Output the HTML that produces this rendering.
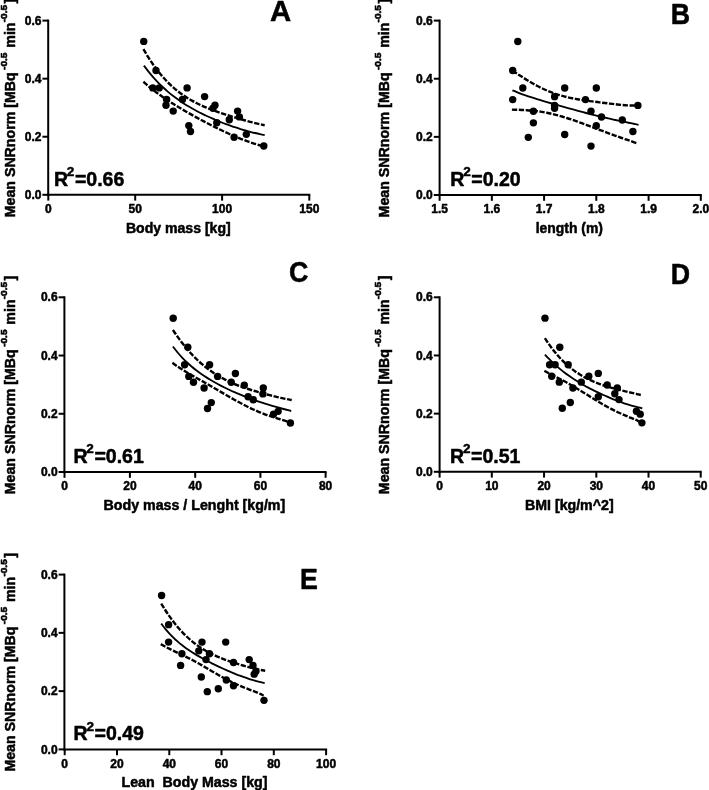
<!DOCTYPE html>
<html><head><meta charset="utf-8"><title>Figure</title>
<style>html,body{margin:0;padding:0;background:#fff;}svg{display:block;will-change:transform;filter:blur(0.3px);}text{font-family:"Liberation Sans", sans-serif;font-weight:bold;fill:#000;stroke:#000;stroke-width:0.5px;stroke-linejoin:round;}.tk{font-size:12.2px;}.tt{font-size:14px;}.yl text{font-size:14.2px;}.yl text.sp{font-size:9.6px;stroke-width:0.6px;}.r2{font-size:19.5px;}.lt{font-size:28.5px;}.ax{stroke:#000;stroke-width:2.00;fill:none;stroke-linecap:butt;}.so{stroke:#000;stroke-width:1.85;fill:none;}.da{stroke:#000;stroke-width:2.4;fill:none;stroke-dasharray:5.3 1.6;}</style></head><body>
<svg width="709" height="790" viewBox="0 0 709 790">
<rect width="709" height="790" fill="#fff"/>
<g>
<path class="ax" d="M48.20 19.60 V195.80"/>
<path class="ax" d="M47.20 194.80 H310.30"/>
<path class="ax" d="M42.40 194.80 H48.20"/>
<text class="tk" transform="translate(41.40 198.90) scale(0.985 1)" text-anchor="end">0.0</text>
<path class="ax" d="M42.40 136.73 H48.20"/>
<text class="tk" transform="translate(41.40 140.83) scale(0.985 1)" text-anchor="end">0.2</text>
<path class="ax" d="M42.40 78.67 H48.20"/>
<text class="tk" transform="translate(41.40 82.77) scale(0.985 1)" text-anchor="end">0.4</text>
<path class="ax" d="M42.40 20.60 H48.20"/>
<text class="tk" transform="translate(41.40 24.70) scale(0.985 1)" text-anchor="end">0.6</text>
<path class="ax" d="M48.30 194.80 V200.60"/>
<text class="tk" transform="translate(48.30 213.00) scale(0.985 1)" text-anchor="middle">0</text>
<path class="ax" d="M135.20 194.80 V200.60"/>
<text class="tk" transform="translate(135.20 213.00) scale(0.985 1)" text-anchor="middle">50</text>
<path class="ax" d="M222.10 194.80 V200.60"/>
<text class="tk" transform="translate(222.10 213.00) scale(0.985 1)" text-anchor="middle">100</text>
<path class="ax" d="M309.30 194.80 V200.60"/>
<text class="tk" transform="translate(309.30 213.00) scale(0.985 1)" text-anchor="middle">150</text>
<text class="tt" x="178.30" y="232.50" text-anchor="middle" textLength="104.8" lengthAdjust="spacingAndGlyphs">Body mass [kg]</text>
<g class="yl" transform="translate(14.60 216.70) rotate(-90)">
<text x="-0.60" y="0">Mean SNRnorm [MBq</text>
<text class="sp" x="146.80" y="-8.00" textLength="17.40" lengthAdjust="spacingAndGlyphs">-0.5</text>
<text x="169.00" y="0">min</text>
<text class="sp" x="194.40" y="-8.00" textLength="17.40" lengthAdjust="spacingAndGlyphs">-0.5</text>
<text x="213.20" y="0">]</text>
</g>
<text class="r2" x="53.90" y="185.60">R<tspan dx="-1.2" dy="-9.5" font-size="13.5">2</tspan><tspan dx="0.6" dy="9.5">=0.66</tspan></text>
<text class="lt" transform="translate(270.00 20.50) scale(1.030 1.035)">A</text>
<g transform="translate(0 0.00)">
<path class="so" d="M143.90 65.59 C144.71 66.65 147.12 69.92 148.73 71.93 C150.34 73.94 151.95 75.84 153.56 77.66 C155.17 79.48 156.79 81.20 158.40 82.84 C160.01 84.49 161.62 86.05 163.23 87.55 C164.84 89.05 166.45 90.48 168.06 91.84 C169.67 93.21 171.28 94.51 172.89 95.76 C174.50 97.01 176.11 98.21 177.72 99.36 C179.33 100.51 180.95 101.60 182.56 102.67 C184.17 103.73 185.78 104.74 187.39 105.73 C189.00 106.71 190.61 107.65 192.22 108.57 C193.83 109.48 195.44 110.36 197.05 111.22 C198.66 112.07 200.27 112.90 201.88 113.70 C203.49 114.50 205.11 115.28 206.72 116.03 C208.33 116.78 209.94 117.51 211.55 118.22 C213.16 118.93 214.77 119.62 216.38 120.29 C217.99 120.96 219.60 121.61 221.21 122.25 C222.82 122.88 224.43 123.49 226.04 124.09 C227.65 124.69 229.27 125.27 230.88 125.83 C232.49 126.39 234.10 126.94 235.71 127.47 C237.32 128.00 238.93 128.51 240.54 129.01 C242.15 129.50 243.76 129.98 245.37 130.44 C246.98 130.90 248.59 131.34 250.20 131.77 C251.81 132.19 253.43 132.60 255.04 132.99 C256.65 133.37 258.26 133.74 259.87 134.09 C261.48 134.44 263.89 134.92 264.70 135.08"/>
<path class="da" d="M143.40 49.09 C144.21 50.44 146.63 54.64 148.25 57.22 C149.87 59.79 151.49 62.21 153.10 64.52 C154.72 66.83 156.34 69.00 157.96 71.07 C159.57 73.13 161.19 75.07 162.81 76.91 C164.43 78.75 166.04 80.48 167.66 82.12 C169.28 83.76 170.89 85.29 172.51 86.74 C174.13 88.20 175.75 89.56 177.36 90.85 C178.98 92.15 180.60 93.35 182.22 94.50 C183.83 95.65 185.45 96.72 187.07 97.75 C188.69 98.77 190.30 99.72 191.92 100.63 C193.54 101.55 195.15 102.40 196.77 103.22 C198.39 104.04 200.01 104.81 201.62 105.55 C203.24 106.29 204.86 106.98 206.48 107.66 C208.09 108.33 209.71 108.97 211.33 109.60 C212.95 110.22 214.56 110.81 216.18 111.39 C217.80 111.97 219.41 112.53 221.03 113.07 C222.65 113.62 224.27 114.15 225.88 114.67 C227.50 115.19 229.12 115.69 230.74 116.19 C232.35 116.69 233.97 117.18 235.59 117.67 C237.21 118.15 238.82 118.62 240.44 119.09 C242.06 119.56 243.67 120.02 245.29 120.47 C246.91 120.92 248.53 121.36 250.14 121.79 C251.76 122.22 253.38 122.64 255.00 123.05 C256.61 123.45 258.23 123.85 259.85 124.22 C261.47 124.59 263.89 125.09 264.70 125.27"/>
<path class="da" d="M143.40 81.77 C144.20 82.47 146.61 84.63 148.21 85.98 C149.82 87.33 151.42 88.62 153.02 89.88 C154.63 91.14 156.23 92.34 157.84 93.52 C159.44 94.70 161.04 95.84 162.65 96.95 C164.25 98.06 165.86 99.14 167.46 100.20 C169.06 101.26 170.67 102.29 172.27 103.30 C173.88 104.31 175.48 105.30 177.08 106.28 C178.69 107.25 180.29 108.21 181.90 109.15 C183.50 110.10 185.10 111.03 186.71 111.95 C188.31 112.87 189.92 113.78 191.52 114.67 C193.12 115.57 194.73 116.46 196.33 117.33 C197.94 118.21 199.54 119.08 201.14 119.94 C202.75 120.79 204.35 121.64 205.96 122.48 C207.56 123.32 209.16 124.15 210.77 124.97 C212.37 125.79 213.98 126.60 215.58 127.40 C217.18 128.20 218.79 128.99 220.39 129.76 C222.00 130.54 223.60 131.30 225.20 132.05 C226.81 132.80 228.41 133.53 230.02 134.25 C231.62 134.97 233.22 135.67 234.83 136.36 C236.43 137.04 238.04 137.71 239.64 138.35 C241.24 139.00 242.85 139.63 244.45 140.23 C246.06 140.83 247.66 141.41 249.26 141.97 C250.87 142.53 252.47 143.06 254.08 143.56 C255.68 144.07 257.28 144.55 258.89 145.00 C260.49 145.44 262.90 146.04 263.70 146.25"/>
</g>
<circle cx="143.75" cy="41.42" r="3.70"/>
<circle cx="156.00" cy="70.46" r="3.70"/>
<circle cx="152.80" cy="87.88" r="3.70"/>
<circle cx="159.20" cy="87.88" r="3.70"/>
<circle cx="187.10" cy="87.88" r="3.70"/>
<circle cx="166.60" cy="99.49" r="3.70"/>
<circle cx="166.00" cy="105.30" r="3.70"/>
<circle cx="173.20" cy="111.10" r="3.70"/>
<circle cx="182.50" cy="99.49" r="3.70"/>
<circle cx="204.60" cy="96.59" r="3.70"/>
<circle cx="215.00" cy="105.30" r="3.70"/>
<circle cx="213.00" cy="108.20" r="3.70"/>
<circle cx="188.80" cy="125.62" r="3.70"/>
<circle cx="190.50" cy="131.43" r="3.70"/>
<circle cx="216.80" cy="122.72" r="3.70"/>
<circle cx="229.30" cy="119.81" r="3.70"/>
<circle cx="237.60" cy="111.10" r="3.70"/>
<circle cx="239.40" cy="116.91" r="3.70"/>
<circle cx="234.10" cy="137.23" r="3.70"/>
<circle cx="246.30" cy="134.33" r="3.70"/>
<circle cx="263.80" cy="145.94" r="3.70"/>
</g>
<g>
<path class="ax" d="M439.60 19.60 V196.00"/>
<path class="ax" d="M438.60 195.00 H701.80"/>
<path class="ax" d="M433.80 195.00 H439.60"/>
<text class="tk" transform="translate(432.80 199.10) scale(0.985 1)" text-anchor="end">0.0</text>
<path class="ax" d="M433.80 136.87 H439.60"/>
<text class="tk" transform="translate(432.80 140.97) scale(0.985 1)" text-anchor="end">0.2</text>
<path class="ax" d="M433.80 78.73 H439.60"/>
<text class="tk" transform="translate(432.80 82.83) scale(0.985 1)" text-anchor="end">0.4</text>
<path class="ax" d="M433.80 20.60 H439.60"/>
<text class="tk" transform="translate(432.80 24.70) scale(0.985 1)" text-anchor="end">0.6</text>
<path class="ax" d="M439.60 195.00 V200.80"/>
<text class="tk" transform="translate(439.60 213.20) scale(0.985 1)" text-anchor="middle">1.5</text>
<path class="ax" d="M491.85 195.00 V200.80"/>
<text class="tk" transform="translate(491.85 213.20) scale(0.985 1)" text-anchor="middle">1.6</text>
<path class="ax" d="M544.10 195.00 V200.80"/>
<text class="tk" transform="translate(544.10 213.20) scale(0.985 1)" text-anchor="middle">1.7</text>
<path class="ax" d="M596.30 195.00 V200.80"/>
<text class="tk" transform="translate(596.30 213.20) scale(0.985 1)" text-anchor="middle">1.8</text>
<path class="ax" d="M648.60 195.00 V200.80"/>
<text class="tk" transform="translate(648.60 213.20) scale(0.985 1)" text-anchor="middle">1.9</text>
<path class="ax" d="M700.80 195.00 V200.80"/>
<text class="tk" transform="translate(700.80 213.20) scale(0.985 1)" text-anchor="middle">2.0</text>
<text class="tt" x="569.30" y="232.70" text-anchor="middle" textLength="67.2" lengthAdjust="spacingAndGlyphs">length (m)</text>
<g class="yl" transform="translate(389.10 216.80) rotate(-90)">
<text x="-0.60" y="0">Mean SNRnorm [MBq</text>
<text class="sp" x="146.80" y="-8.00" textLength="17.40" lengthAdjust="spacingAndGlyphs">-0.5</text>
<text x="169.00" y="0">min</text>
<text class="sp" x="194.40" y="-8.00" textLength="17.40" lengthAdjust="spacingAndGlyphs">-0.5</text>
<text x="213.20" y="0">]</text>
</g>
<text class="r2" x="450.30" y="185.80">R<tspan dx="-1.2" dy="-9.5" font-size="13.5">2</tspan><tspan dx="0.6" dy="9.5">=0.20</tspan></text>
<text class="lt" transform="translate(670.70 24.10) scale(0.940 1.035)">B</text>
<g transform="translate(0 0.00)">
<path class="so" d="M512.40 90.28 C513.24 90.63 515.77 91.72 517.45 92.39 C519.13 93.06 520.81 93.69 522.50 94.30 C524.18 94.91 525.86 95.49 527.54 96.06 C529.23 96.63 530.91 97.18 532.59 97.72 C534.27 98.26 535.96 98.78 537.64 99.29 C539.32 99.81 541.01 100.31 542.69 100.81 C544.37 101.31 546.05 101.81 547.74 102.30 C549.42 102.79 551.10 103.27 552.78 103.75 C554.47 104.24 556.15 104.72 557.83 105.19 C559.51 105.67 561.20 106.15 562.88 106.62 C564.56 107.09 566.25 107.57 567.93 108.04 C569.61 108.50 571.29 108.97 572.98 109.44 C574.66 109.90 576.34 110.36 578.02 110.82 C579.71 111.27 581.39 111.73 583.07 112.17 C584.75 112.62 586.44 113.06 588.12 113.50 C589.80 113.94 591.49 114.37 593.17 114.79 C594.85 115.22 596.53 115.64 598.22 116.05 C599.90 116.46 601.58 116.86 603.26 117.26 C604.95 117.65 606.63 118.04 608.31 118.42 C609.99 118.80 611.68 119.17 613.36 119.54 C615.04 119.91 616.73 120.27 618.41 120.62 C620.09 120.98 621.77 121.33 623.46 121.68 C625.14 122.03 626.82 122.37 628.50 122.72 C630.19 123.06 631.87 123.40 633.55 123.76 C635.23 124.11 637.76 124.65 638.60 124.83"/>
<path class="da" d="M512.40 70.65 C513.23 71.19 515.73 72.80 517.39 73.88 C519.06 74.96 520.72 76.05 522.38 77.11 C524.05 78.17 525.71 79.22 527.38 80.24 C529.04 81.26 530.70 82.26 532.37 83.21 C534.03 84.17 535.70 85.09 537.36 85.97 C539.02 86.85 540.69 87.69 542.35 88.49 C544.02 89.28 545.68 90.03 547.34 90.74 C549.01 91.44 550.67 92.10 552.34 92.72 C554.00 93.34 555.66 93.91 557.33 94.45 C558.99 94.99 560.66 95.48 562.32 95.94 C563.98 96.40 565.65 96.81 567.31 97.21 C568.98 97.60 570.64 97.95 572.30 98.29 C573.97 98.63 575.63 98.93 577.30 99.22 C578.96 99.51 580.62 99.78 582.29 100.03 C583.95 100.29 585.62 100.53 587.28 100.76 C588.94 100.99 590.61 101.21 592.27 101.43 C593.94 101.65 595.60 101.86 597.26 102.06 C598.93 102.27 600.59 102.48 602.26 102.69 C603.92 102.89 605.58 103.10 607.25 103.30 C608.91 103.50 610.58 103.71 612.24 103.90 C613.90 104.10 615.57 104.29 617.23 104.47 C618.90 104.65 620.56 104.83 622.22 104.97 C623.89 105.12 625.55 105.26 627.22 105.36 C628.88 105.46 630.54 105.54 632.21 105.56 C633.87 105.57 636.37 105.48 637.20 105.47"/>
<path class="da" d="M511.90 109.65 C512.73 109.67 515.23 109.72 516.89 109.77 C518.56 109.81 520.22 109.87 521.88 109.94 C523.55 110.02 525.21 110.10 526.88 110.22 C528.54 110.33 530.20 110.46 531.87 110.62 C533.53 110.79 535.20 110.97 536.86 111.18 C538.52 111.40 540.19 111.64 541.85 111.91 C543.52 112.18 545.18 112.48 546.84 112.80 C548.51 113.13 550.17 113.49 551.84 113.87 C553.50 114.25 555.16 114.66 556.83 115.10 C558.49 115.53 560.16 115.99 561.82 116.48 C563.48 116.96 565.15 117.47 566.81 117.99 C568.48 118.52 570.14 119.07 571.80 119.63 C573.47 120.19 575.13 120.77 576.80 121.36 C578.46 121.95 580.12 122.55 581.79 123.16 C583.45 123.78 585.12 124.40 586.78 125.02 C588.44 125.65 590.11 126.28 591.77 126.92 C593.44 127.55 595.10 128.19 596.76 128.82 C598.43 129.45 600.09 130.09 601.76 130.72 C603.42 131.35 605.08 131.97 606.75 132.59 C608.41 133.21 610.08 133.83 611.74 134.44 C613.40 135.04 615.07 135.64 616.73 136.24 C618.40 136.83 620.06 137.42 621.72 138.00 C623.39 138.59 625.05 139.16 626.72 139.73 C628.38 140.31 630.04 140.87 631.71 141.45 C633.37 142.02 635.87 142.87 636.70 143.16"/>
</g>
<circle cx="517.80" cy="41.45" r="3.70"/>
<circle cx="512.70" cy="70.51" r="3.70"/>
<circle cx="522.80" cy="87.95" r="3.70"/>
<circle cx="512.70" cy="99.58" r="3.70"/>
<circle cx="564.70" cy="87.95" r="3.70"/>
<circle cx="596.30" cy="87.95" r="3.70"/>
<circle cx="554.60" cy="96.67" r="3.70"/>
<circle cx="554.60" cy="105.39" r="3.70"/>
<circle cx="554.60" cy="108.30" r="3.70"/>
<circle cx="585.50" cy="99.58" r="3.70"/>
<circle cx="637.90" cy="105.39" r="3.70"/>
<circle cx="533.40" cy="111.21" r="3.70"/>
<circle cx="533.40" cy="122.83" r="3.70"/>
<circle cx="591.00" cy="111.21" r="3.70"/>
<circle cx="601.50" cy="117.02" r="3.70"/>
<circle cx="622.30" cy="119.93" r="3.70"/>
<circle cx="596.30" cy="125.74" r="3.70"/>
<circle cx="632.90" cy="131.55" r="3.70"/>
<circle cx="528.30" cy="137.37" r="3.70"/>
<circle cx="564.70" cy="134.46" r="3.70"/>
<circle cx="591.00" cy="146.09" r="3.70"/>
</g>
<g>
<path class="ax" d="M64.40 296.30 V473.00"/>
<path class="ax" d="M63.40 472.00 H326.60"/>
<path class="ax" d="M58.60 472.00 H64.40"/>
<text class="tk" transform="translate(57.60 476.10) scale(0.985 1)" text-anchor="end">0.0</text>
<path class="ax" d="M58.60 413.77 H64.40"/>
<text class="tk" transform="translate(57.60 417.87) scale(0.985 1)" text-anchor="end">0.2</text>
<path class="ax" d="M58.60 355.53 H64.40"/>
<text class="tk" transform="translate(57.60 359.63) scale(0.985 1)" text-anchor="end">0.4</text>
<path class="ax" d="M58.60 297.30 H64.40"/>
<text class="tk" transform="translate(57.60 301.40) scale(0.985 1)" text-anchor="end">0.6</text>
<path class="ax" d="M64.50 472.00 V477.80"/>
<text class="tk" transform="translate(64.50 490.20) scale(0.985 1)" text-anchor="middle">0</text>
<path class="ax" d="M129.90 472.00 V477.80"/>
<text class="tk" transform="translate(129.90 490.20) scale(0.985 1)" text-anchor="middle">20</text>
<path class="ax" d="M195.20 472.00 V477.80"/>
<text class="tk" transform="translate(195.20 490.20) scale(0.985 1)" text-anchor="middle">40</text>
<path class="ax" d="M260.40 472.00 V477.80"/>
<text class="tk" transform="translate(260.40 490.20) scale(0.985 1)" text-anchor="middle">60</text>
<path class="ax" d="M325.60 472.00 V477.80"/>
<text class="tk" transform="translate(325.60 490.20) scale(0.985 1)" text-anchor="middle">80</text>
<text class="tt" x="194.40" y="509.70" text-anchor="middle" textLength="181.7" lengthAdjust="spacingAndGlyphs">Body mass / Lenght [kg/m]</text>
<g class="yl" transform="translate(14.60 493.65) rotate(-90)">
<text x="-0.60" y="0">Mean SNRnorm [MBq</text>
<text class="sp" x="146.80" y="-8.00" textLength="17.40" lengthAdjust="spacingAndGlyphs">-0.5</text>
<text x="169.00" y="0">min</text>
<text class="sp" x="194.40" y="-8.00" textLength="17.40" lengthAdjust="spacingAndGlyphs">-0.5</text>
<text x="213.20" y="0">]</text>
</g>
<text class="r2" x="73.40" y="462.80">R<tspan dx="-1.2" dy="-9.5" font-size="13.5">2</tspan><tspan dx="0.6" dy="9.5">=0.61</tspan></text>
<text class="lt" transform="translate(289.00 281.90) scale(0.940 1.035)">C</text>
<g transform="translate(0 0.00)">
<path class="so" d="M172.90 346.46 C173.69 347.46 176.05 350.58 177.63 352.47 C179.21 354.35 180.79 356.11 182.36 357.78 C183.94 359.45 185.52 361.00 187.10 362.49 C188.67 363.98 190.25 365.37 191.83 366.71 C193.41 368.05 194.98 369.30 196.56 370.51 C198.14 371.72 199.71 372.86 201.29 373.96 C202.87 375.06 204.45 376.11 206.02 377.12 C207.60 378.14 209.18 379.11 210.76 380.04 C212.33 380.98 213.91 381.89 215.49 382.76 C217.07 383.64 218.64 384.48 220.22 385.31 C221.80 386.13 223.37 386.93 224.95 387.71 C226.53 388.49 228.11 389.24 229.68 389.98 C231.26 390.72 232.84 391.43 234.42 392.14 C235.99 392.84 237.57 393.52 239.15 394.18 C240.73 394.85 242.30 395.50 243.88 396.13 C245.46 396.77 247.03 397.38 248.61 397.99 C250.19 398.59 251.77 399.17 253.34 399.74 C254.92 400.31 256.50 400.87 258.08 401.41 C259.65 401.95 261.23 402.47 262.81 402.98 C264.39 403.50 265.96 403.99 267.54 404.47 C269.12 404.96 270.69 405.43 272.27 405.88 C273.85 406.34 275.43 406.79 277.00 407.22 C278.58 407.66 280.16 408.09 281.74 408.51 C283.31 408.93 284.89 409.34 286.47 409.76 C288.05 410.17 290.41 410.79 291.20 411.00"/>
<path class="da" d="M172.90 329.99 C173.69 331.15 176.07 334.71 177.65 336.93 C179.24 339.15 180.82 341.27 182.40 343.30 C183.99 345.34 185.57 347.27 187.16 349.13 C188.74 350.98 190.32 352.75 191.91 354.43 C193.49 356.12 195.08 357.72 196.66 359.24 C198.24 360.77 199.83 362.21 201.41 363.59 C203.00 364.97 204.58 366.27 206.16 367.51 C207.75 368.76 209.33 369.93 210.92 371.04 C212.50 372.16 214.08 373.21 215.67 374.22 C217.25 375.22 218.84 376.16 220.42 377.06 C222.00 377.97 223.59 378.81 225.17 379.62 C226.76 380.44 228.34 381.20 229.92 381.93 C231.51 382.66 233.09 383.35 234.68 384.02 C236.26 384.68 237.84 385.31 239.43 385.92 C241.01 386.52 242.60 387.10 244.18 387.65 C245.76 388.21 247.35 388.74 248.93 389.26 C250.52 389.78 252.10 390.27 253.68 390.75 C255.27 391.24 256.85 391.70 258.44 392.16 C260.02 392.61 261.60 393.05 263.19 393.48 C264.77 393.92 266.36 394.34 267.94 394.75 C269.52 395.16 271.11 395.56 272.69 395.95 C274.28 396.34 275.86 396.72 277.44 397.09 C279.03 397.46 280.61 397.82 282.20 398.16 C283.78 398.51 285.36 398.84 286.95 399.15 C288.53 399.47 290.91 399.89 291.70 400.04"/>
<path class="da" d="M172.40 362.76 C173.19 363.33 175.55 365.09 177.13 366.18 C178.71 367.27 180.29 368.29 181.86 369.29 C183.44 370.29 185.02 371.24 186.60 372.19 C188.17 373.13 189.75 374.05 191.33 374.96 C192.91 375.87 194.48 376.77 196.06 377.67 C197.64 378.56 199.21 379.45 200.79 380.35 C202.37 381.25 203.95 382.14 205.52 383.04 C207.10 383.94 208.68 384.85 210.26 385.76 C211.83 386.67 213.41 387.58 214.99 388.50 C216.57 389.41 218.14 390.33 219.72 391.25 C221.30 392.17 222.87 393.09 224.45 394.01 C226.03 394.93 227.61 395.84 229.18 396.75 C230.76 397.65 232.34 398.55 233.92 399.44 C235.49 400.33 237.07 401.20 238.65 402.06 C240.23 402.92 241.80 403.76 243.38 404.58 C244.96 405.40 246.53 406.21 248.11 406.98 C249.69 407.76 251.27 408.51 252.84 409.23 C254.42 409.96 256.00 410.66 257.58 411.33 C259.15 412.00 260.73 412.64 262.31 413.26 C263.89 413.87 265.46 414.46 267.04 415.03 C268.62 415.59 270.19 416.13 271.77 416.65 C273.35 417.17 274.93 417.67 276.50 418.16 C278.08 418.66 279.66 419.13 281.24 419.61 C282.81 420.09 284.39 420.55 285.97 421.05 C287.55 421.54 289.91 422.32 290.70 422.58"/>
</g>
<circle cx="173.20" cy="318.18" r="3.70"/>
<circle cx="187.80" cy="347.30" r="3.70"/>
<circle cx="184.60" cy="364.77" r="3.70"/>
<circle cx="209.60" cy="364.77" r="3.70"/>
<circle cx="188.80" cy="376.42" r="3.70"/>
<circle cx="193.50" cy="382.24" r="3.70"/>
<circle cx="204.10" cy="388.06" r="3.70"/>
<circle cx="217.60" cy="376.42" r="3.70"/>
<circle cx="235.40" cy="373.50" r="3.70"/>
<circle cx="231.20" cy="382.24" r="3.70"/>
<circle cx="244.30" cy="385.15" r="3.70"/>
<circle cx="211.30" cy="402.62" r="3.70"/>
<circle cx="207.50" cy="408.44" r="3.70"/>
<circle cx="263.30" cy="388.06" r="3.70"/>
<circle cx="262.90" cy="393.88" r="3.70"/>
<circle cx="248.10" cy="396.80" r="3.70"/>
<circle cx="253.20" cy="399.71" r="3.70"/>
<circle cx="278.10" cy="411.36" r="3.70"/>
<circle cx="273.50" cy="414.27" r="3.70"/>
<circle cx="290.40" cy="423.00" r="3.70"/>
</g>
<g>
<path class="ax" d="M439.60 296.30 V472.80"/>
<path class="ax" d="M438.60 471.80 H701.70"/>
<path class="ax" d="M433.80 471.80 H439.60"/>
<text class="tk" transform="translate(432.80 475.90) scale(0.985 1)" text-anchor="end">0.0</text>
<path class="ax" d="M433.80 413.63 H439.60"/>
<text class="tk" transform="translate(432.80 417.73) scale(0.985 1)" text-anchor="end">0.2</text>
<path class="ax" d="M433.80 355.47 H439.60"/>
<text class="tk" transform="translate(432.80 359.57) scale(0.985 1)" text-anchor="end">0.4</text>
<path class="ax" d="M433.80 297.30 H439.60"/>
<text class="tk" transform="translate(432.80 301.40) scale(0.985 1)" text-anchor="end">0.6</text>
<path class="ax" d="M439.60 471.80 V477.60"/>
<text class="tk" transform="translate(439.60 490.00) scale(0.985 1)" text-anchor="middle">0</text>
<path class="ax" d="M491.80 471.80 V477.60"/>
<text class="tk" transform="translate(491.80 490.00) scale(0.985 1)" text-anchor="middle">10</text>
<path class="ax" d="M544.05 471.80 V477.60"/>
<text class="tk" transform="translate(544.05 490.00) scale(0.985 1)" text-anchor="middle">20</text>
<path class="ax" d="M596.30 471.80 V477.60"/>
<text class="tk" transform="translate(596.30 490.00) scale(0.985 1)" text-anchor="middle">30</text>
<path class="ax" d="M648.50 471.80 V477.60"/>
<text class="tk" transform="translate(648.50 490.00) scale(0.985 1)" text-anchor="middle">40</text>
<path class="ax" d="M700.70 471.80 V477.60"/>
<text class="tk" transform="translate(700.70 490.00) scale(0.985 1)" text-anchor="middle">50</text>
<text class="tt" x="569.30" y="509.50" text-anchor="middle" textLength="88.6" lengthAdjust="spacingAndGlyphs">BMI [kg/m^2]</text>
<g class="yl" transform="translate(389.10 493.55) rotate(-90)">
<text x="-0.60" y="0">Mean SNRnorm [MBq</text>
<text class="sp" x="146.80" y="-8.00" textLength="17.40" lengthAdjust="spacingAndGlyphs">-0.5</text>
<text x="169.00" y="0">min</text>
<text class="sp" x="194.40" y="-8.00" textLength="17.40" lengthAdjust="spacingAndGlyphs">-0.5</text>
<text x="213.20" y="0">]</text>
</g>
<text class="r2" x="450.10" y="462.60">R<tspan dx="-1.2" dy="-9.5" font-size="13.5">2</tspan><tspan dx="0.6" dy="9.5">=0.51</tspan></text>
<text class="lt" transform="translate(670.70 283.90) scale(0.940 1.035)">D</text>
<g transform="translate(0 0.00)">
<path class="so" d="M544.90 354.54 C545.55 355.24 547.50 357.37 548.80 358.70 C550.09 360.03 551.39 361.31 552.69 362.54 C553.99 363.77 555.29 364.95 556.59 366.09 C557.89 367.24 559.19 368.33 560.48 369.39 C561.78 370.46 563.08 371.48 564.38 372.47 C565.68 373.46 566.98 374.41 568.28 375.34 C569.57 376.26 570.87 377.15 572.17 378.02 C573.47 378.89 574.77 379.73 576.07 380.55 C577.37 381.37 578.67 382.16 579.96 382.94 C581.26 383.71 582.56 384.46 583.86 385.20 C585.16 385.93 586.46 386.65 587.76 387.34 C589.05 388.04 590.35 388.72 591.65 389.39 C592.95 390.06 594.25 390.71 595.55 391.34 C596.85 391.98 598.15 392.60 599.44 393.21 C600.74 393.82 602.04 394.42 603.34 395.00 C604.64 395.59 605.94 396.16 607.24 396.72 C608.53 397.28 609.83 397.82 611.13 398.36 C612.43 398.89 613.73 399.42 615.03 399.93 C616.33 400.43 617.63 400.93 618.92 401.41 C620.22 401.90 621.52 402.36 622.82 402.82 C624.12 403.27 625.42 403.71 626.72 404.13 C628.01 404.56 629.31 404.96 630.61 405.35 C631.91 405.74 633.21 406.11 634.51 406.46 C635.81 406.81 637.11 407.15 638.40 407.45 C639.70 407.76 641.65 408.17 642.30 408.31"/>
<path class="da" d="M544.90 338.09 C545.54 339.05 547.46 342.03 548.74 343.87 C550.01 345.70 551.29 347.45 552.57 349.12 C553.85 350.79 555.13 352.38 556.41 353.90 C557.69 355.41 558.97 356.85 560.24 358.22 C561.52 359.59 562.80 360.89 564.08 362.13 C565.36 363.37 566.64 364.54 567.92 365.66 C569.19 366.78 570.47 367.83 571.75 368.84 C573.03 369.84 574.31 370.79 575.59 371.69 C576.87 372.59 578.15 373.44 579.42 374.25 C580.70 375.06 581.98 375.82 583.26 376.55 C584.54 377.28 585.82 377.96 587.10 378.61 C588.37 379.26 589.65 379.88 590.93 380.46 C592.21 381.05 593.49 381.60 594.77 382.13 C596.05 382.65 597.33 383.15 598.60 383.63 C599.88 384.11 601.16 384.56 602.44 384.99 C603.72 385.42 605.00 385.83 606.28 386.23 C607.55 386.63 608.83 387.01 610.11 387.37 C611.39 387.74 612.67 388.09 613.95 388.44 C615.23 388.78 616.51 389.11 617.78 389.44 C619.06 389.77 620.34 390.08 621.62 390.40 C622.90 390.71 624.18 391.02 625.46 391.32 C626.73 391.63 628.01 391.93 629.29 392.23 C630.57 392.53 631.85 392.83 633.13 393.14 C634.41 393.44 635.69 393.74 636.96 394.05 C638.24 394.36 640.16 394.83 640.80 394.98"/>
<path class="da" d="M544.40 370.78 C545.05 371.14 547.00 372.24 548.30 372.94 C549.59 373.64 550.89 374.31 552.19 374.98 C553.49 375.66 554.79 376.32 556.09 376.99 C557.39 377.66 558.69 378.32 559.98 379.00 C561.28 379.68 562.58 380.36 563.88 381.06 C565.18 381.76 566.48 382.46 567.78 383.19 C569.07 383.91 570.37 384.64 571.67 385.39 C572.97 386.14 574.27 386.90 575.57 387.67 C576.87 388.44 578.17 389.23 579.46 390.02 C580.76 390.81 582.06 391.61 583.36 392.42 C584.66 393.22 585.96 394.04 587.26 394.85 C588.55 395.66 589.85 396.48 591.15 397.29 C592.45 398.10 593.75 398.91 595.05 399.70 C596.35 400.50 597.65 401.29 598.94 402.07 C600.24 402.85 601.54 403.62 602.84 404.37 C604.14 405.12 605.44 405.86 606.74 406.57 C608.03 407.29 609.33 407.99 610.63 408.67 C611.93 409.34 613.23 410.00 614.53 410.64 C615.83 411.28 617.13 411.90 618.42 412.50 C619.72 413.10 621.02 413.68 622.32 414.25 C623.62 414.81 624.92 415.36 626.22 415.91 C627.51 416.45 628.81 416.98 630.11 417.52 C631.41 418.06 632.71 418.58 634.01 419.13 C635.31 419.68 636.61 420.22 637.90 420.81 C639.20 421.40 641.15 422.34 641.80 422.65"/>
</g>
<circle cx="545.00" cy="318.16" r="3.70"/>
<circle cx="559.80" cy="347.24" r="3.70"/>
<circle cx="549.60" cy="364.69" r="3.70"/>
<circle cx="555.10" cy="364.69" r="3.70"/>
<circle cx="568.20" cy="364.69" r="3.70"/>
<circle cx="551.70" cy="376.32" r="3.70"/>
<circle cx="559.30" cy="382.14" r="3.70"/>
<circle cx="572.90" cy="387.96" r="3.70"/>
<circle cx="581.30" cy="382.14" r="3.70"/>
<circle cx="588.80" cy="376.32" r="3.70"/>
<circle cx="598.30" cy="373.42" r="3.70"/>
<circle cx="607.20" cy="385.05" r="3.70"/>
<circle cx="617.30" cy="387.96" r="3.70"/>
<circle cx="614.80" cy="393.77" r="3.70"/>
<circle cx="598.30" cy="396.68" r="3.70"/>
<circle cx="619.00" cy="399.59" r="3.70"/>
<circle cx="570.30" cy="402.50" r="3.70"/>
<circle cx="562.30" cy="408.32" r="3.70"/>
<circle cx="636.40" cy="411.23" r="3.70"/>
<circle cx="640.20" cy="414.13" r="3.70"/>
<circle cx="641.90" cy="422.86" r="3.70"/>
</g>
<g>
<path class="ax" d="M64.40 573.60 V750.40"/>
<path class="ax" d="M63.40 749.40 H327.10"/>
<path class="ax" d="M58.60 749.40 H64.40"/>
<text class="tk" transform="translate(57.60 753.50) scale(0.985 1)" text-anchor="end">0.0</text>
<path class="ax" d="M58.60 691.13 H64.40"/>
<text class="tk" transform="translate(57.60 695.23) scale(0.985 1)" text-anchor="end">0.2</text>
<path class="ax" d="M58.60 632.87 H64.40"/>
<text class="tk" transform="translate(57.60 636.97) scale(0.985 1)" text-anchor="end">0.4</text>
<path class="ax" d="M58.60 574.60 H64.40"/>
<text class="tk" transform="translate(57.60 578.70) scale(0.985 1)" text-anchor="end">0.6</text>
<path class="ax" d="M64.70 749.40 V755.20"/>
<text class="tk" transform="translate(64.70 767.60) scale(0.985 1)" text-anchor="middle">0</text>
<path class="ax" d="M117.00 749.40 V755.20"/>
<text class="tk" transform="translate(117.00 767.60) scale(0.985 1)" text-anchor="middle">20</text>
<path class="ax" d="M169.30 749.40 V755.20"/>
<text class="tk" transform="translate(169.30 767.60) scale(0.985 1)" text-anchor="middle">40</text>
<path class="ax" d="M221.50 749.40 V755.20"/>
<text class="tk" transform="translate(221.50 767.60) scale(0.985 1)" text-anchor="middle">60</text>
<path class="ax" d="M273.80 749.40 V755.20"/>
<text class="tk" transform="translate(273.80 767.60) scale(0.985 1)" text-anchor="middle">80</text>
<path class="ax" d="M326.10 749.40 V755.20"/>
<text class="tk" transform="translate(326.10 767.60) scale(0.985 1)" text-anchor="middle">100</text>
<text class="tt" x="194.50" y="787.10" text-anchor="middle" textLength="146.0" lengthAdjust="spacingAndGlyphs">Lean  Body Mass [kg]</text>
<g class="yl" transform="translate(14.60 771.00) rotate(-90)">
<text x="-0.60" y="0">Mean SNRnorm [MBq</text>
<text class="sp" x="146.80" y="-8.00" textLength="17.40" lengthAdjust="spacingAndGlyphs">-0.5</text>
<text x="169.00" y="0">min</text>
<text class="sp" x="194.40" y="-8.00" textLength="17.40" lengthAdjust="spacingAndGlyphs">-0.5</text>
<text x="213.20" y="0">]</text>
</g>
<text class="r2" x="73.60" y="740.20">R<tspan dx="-1.2" dy="-9.5" font-size="13.5">2</tspan><tspan dx="0.6" dy="9.5">=0.49</tspan></text>
<text class="lt" transform="translate(299.90 589.20) scale(0.940 1.035)">E</text>
<g transform="translate(0 0.00)">
<path class="so" d="M161.20 623.59 C161.89 624.48 163.96 627.24 165.34 628.91 C166.72 630.59 168.10 632.15 169.48 633.64 C170.86 635.13 172.24 636.53 173.62 637.86 C175.00 639.19 176.38 640.44 177.76 641.64 C179.14 642.84 180.52 643.97 181.90 645.06 C183.28 646.15 184.66 647.17 186.04 648.17 C187.42 649.16 188.80 650.10 190.18 651.02 C191.56 651.94 192.94 652.81 194.32 653.66 C195.70 654.51 197.08 655.33 198.46 656.13 C199.84 656.93 201.22 657.70 202.60 658.46 C203.98 659.22 205.36 659.95 206.74 660.68 C208.12 661.40 209.50 662.10 210.88 662.80 C212.26 663.49 213.64 664.17 215.02 664.84 C216.40 665.51 217.78 666.16 219.16 666.81 C220.54 667.46 221.92 668.09 223.30 668.72 C224.68 669.34 226.06 669.96 227.44 670.56 C228.82 671.17 230.20 671.76 231.58 672.34 C232.96 672.92 234.34 673.50 235.72 674.05 C237.10 674.61 238.48 675.16 239.86 675.68 C241.24 676.21 242.62 676.73 244.00 677.23 C245.38 677.72 246.76 678.21 248.14 678.67 C249.52 679.13 250.90 679.57 252.28 679.99 C253.66 680.41 255.04 680.80 256.42 681.18 C257.80 681.55 259.18 681.89 260.56 682.21 C261.94 682.53 264.01 682.93 264.70 683.08"/>
<path class="da" d="M161.20 603.52 C161.89 604.64 163.97 608.10 165.36 610.25 C166.75 612.40 168.13 614.46 169.52 616.43 C170.91 618.40 172.29 620.27 173.68 622.07 C175.07 623.87 176.45 625.58 177.84 627.21 C179.23 628.84 180.61 630.39 182.00 631.86 C183.39 633.34 184.77 634.73 186.16 636.06 C187.55 637.39 188.93 638.65 190.32 639.85 C191.71 641.04 193.09 642.17 194.48 643.24 C195.87 644.32 197.25 645.33 198.64 646.29 C200.03 647.25 201.41 648.16 202.80 649.02 C204.19 649.88 205.57 650.69 206.96 651.47 C208.35 652.25 209.73 652.98 211.12 653.68 C212.51 654.38 213.89 655.04 215.28 655.67 C216.67 656.30 218.05 656.90 219.44 657.48 C220.83 658.06 222.21 658.61 223.60 659.14 C224.99 659.67 226.37 660.18 227.76 660.68 C229.15 661.17 230.53 661.64 231.92 662.11 C233.31 662.57 234.69 663.01 236.08 663.45 C237.47 663.88 238.85 664.31 240.24 664.72 C241.63 665.13 243.01 665.53 244.40 665.92 C245.79 666.31 247.17 666.69 248.56 667.06 C249.95 667.42 251.33 667.78 252.72 668.12 C254.11 668.47 255.49 668.80 256.88 669.11 C258.27 669.42 259.65 669.72 261.04 669.99 C262.43 670.26 264.51 670.61 265.20 670.74"/>
<path class="da" d="M160.80 644.10 C161.49 644.50 163.54 645.76 164.92 646.53 C166.29 647.29 167.66 647.99 169.03 648.68 C170.40 649.37 171.78 650.03 173.15 650.68 C174.52 651.34 175.89 651.97 177.26 652.62 C178.64 653.26 180.01 653.90 181.38 654.56 C182.75 655.21 184.12 655.87 185.50 656.55 C186.87 657.23 188.24 657.92 189.61 658.62 C190.98 659.33 192.36 660.05 193.73 660.79 C195.10 661.52 196.47 662.28 197.84 663.04 C199.22 663.81 200.59 664.59 201.96 665.38 C203.33 666.16 204.70 666.96 206.08 667.76 C207.45 668.57 208.82 669.38 210.19 670.18 C211.56 670.99 212.94 671.80 214.31 672.59 C215.68 673.39 217.05 674.19 218.42 674.97 C219.80 675.75 221.17 676.52 222.54 677.28 C223.91 678.03 225.28 678.77 226.66 679.49 C228.03 680.21 229.40 680.91 230.77 681.58 C232.14 682.26 233.52 682.91 234.89 683.55 C236.26 684.18 237.63 684.79 239.00 685.38 C240.38 685.97 241.75 686.54 243.12 687.10 C244.49 687.65 245.86 688.19 247.24 688.72 C248.61 689.26 249.98 689.78 251.35 690.31 C252.72 690.84 254.10 691.37 255.47 691.93 C256.84 692.48 258.21 693.04 259.58 693.67 C260.96 694.29 263.01 695.32 263.70 695.65"/>
</g>
<circle cx="161.60" cy="595.49" r="3.70"/>
<circle cx="168.60" cy="624.63" r="3.70"/>
<circle cx="168.60" cy="642.11" r="3.70"/>
<circle cx="202.00" cy="642.11" r="3.70"/>
<circle cx="225.70" cy="642.11" r="3.70"/>
<circle cx="198.80" cy="650.85" r="3.70"/>
<circle cx="209.40" cy="653.76" r="3.70"/>
<circle cx="181.90" cy="653.76" r="3.70"/>
<circle cx="206.00" cy="659.59" r="3.70"/>
<circle cx="180.60" cy="665.41" r="3.70"/>
<circle cx="233.50" cy="662.50" r="3.70"/>
<circle cx="249.20" cy="659.59" r="3.70"/>
<circle cx="253.00" cy="665.41" r="3.70"/>
<circle cx="255.90" cy="671.24" r="3.70"/>
<circle cx="254.20" cy="674.15" r="3.70"/>
<circle cx="201.30" cy="677.07" r="3.70"/>
<circle cx="226.30" cy="679.98" r="3.70"/>
<circle cx="233.50" cy="685.81" r="3.70"/>
<circle cx="218.30" cy="688.72" r="3.70"/>
<circle cx="207.30" cy="691.63" r="3.70"/>
<circle cx="264.00" cy="700.37" r="3.70"/>
</g>
</svg></body></html>
